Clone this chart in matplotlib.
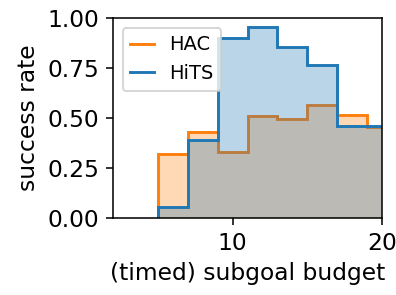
import numpy as np
import matplotlib.pyplot as plt

plt.rcParams['font.size'] = 12

# subgoal budget bin edges and success rates
edges = [5, 7, 9, 11, 13, 15, 17, 19, 21]
hac = [0.32, 0.43, 0.33, 0.51, 0.495, 0.565, 0.515, 0.455]
hits = [0.053, 0.39, 0.90, 0.953, 0.857, 0.765, 0.462, 0.462]

fig = plt.figure(figsize=(396 / 140, 295 / 140), dpi=140)
ax = fig.add_axes([0.285, 0.261, 0.680, 0.678])

ax.stairs(hac, edges, fill=True, color='tab:orange', alpha=0.3, lw=0)
ax.stairs(hac, edges, color='tab:orange', lw=1.5, label='HAC')
ax.stairs(hits, edges, fill=True, color='tab:blue', alpha=0.3, lw=0)
ax.stairs(hits, edges, color='tab:blue', lw=1.5, label='HiTS')

ax.set_xlim(2, 20)
ax.set_ylim(0, 1)
ax.set_xticks([10, 20])
ax.set_yticks([0, 0.25, 0.5, 0.75, 1.0])
ax.set_xlabel('(timed) subgoal budget')
ax.set_ylabel('success rate')
ax.legend(loc='upper left', fontsize=10, handlelength=1.2)

plt.savefig('out.png', dpi=140)
